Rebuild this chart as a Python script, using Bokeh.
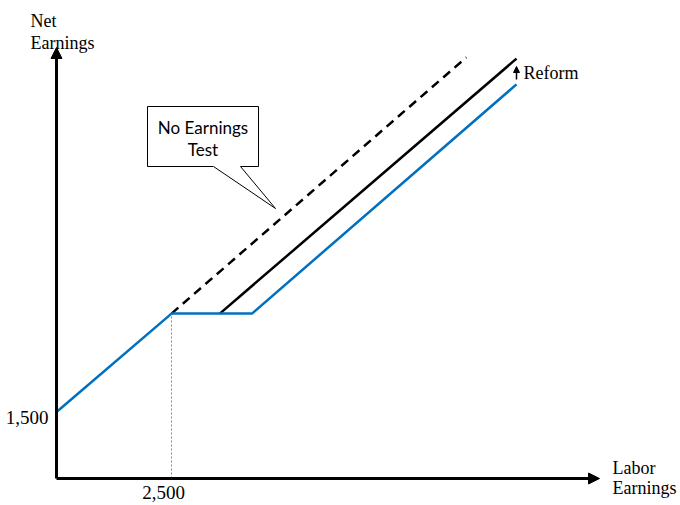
from bokeh.plotting import figure
from bokeh.models import Range1d, Label, Arrow, NormalHead
from bokeh.embed import file_html
from bokeh.resources import INLINE

# ---- data (schematic, in earnings units) ----
blue_x = [0, 2500, 4250, 10000]          # current earnings test
blue_y = [1500, 3720, 3720, 8890]
reform_x = [3550, 10000]                 # reform schedule
reform_y = [3720, 9470]
no_test_x = [2500, 8910]                 # no earnings test
no_test_y = [3720, 9500]
threshold_x = 2500
base_y = 1500
x_tick_labels = ["2,500"]
y_tick_labels = ["1,500"]

# pixel <-> data conversion for the layout
KX = 2500 / 115.0
KY = 1500 / 66.5
OX, OY = 56, 478          # page pixel of origin

def dx(px):
    return (px - OX) * KX

def dy(py):
    return (OY - py) * KY

W, H = 680, 505
p = figure(width=W, height=H, output_backend="svg", toolbar_location=None,
           x_range=Range1d(dx(0), dx(W)), y_range=Range1d(dy(H), dy(0)),
           min_border=0, min_border_left=0, min_border_right=0,
           min_border_top=0, min_border_bottom=0)
p.axis.visible = False
p.grid.visible = False
p.outline_line_color = None
p.background_fill_color = "white"
p.border_fill_color = "white"

# axes with arrowheads
p.add_layout(Arrow(end=NormalHead(size=11, fill_color="black", line_color="black"),
                   x_start=0, y_start=0, x_end=0, y_end=dy(47),
                   line_width=3, line_color="black"))
p.add_layout(Arrow(end=NormalHead(size=11, fill_color="black", line_color="black"),
                   x_start=0, y_start=0, x_end=dx(599), y_end=0,
                   line_width=3, line_color="black"))

# dotted threshold line
p.line([threshold_x, threshold_x], [0, blue_y[1]], line_color="#888888",
       line_width=1, line_dash="2 2")

# schedules
p.line(no_test_x, no_test_y, line_color="black", line_width=2.5, line_dash="9 6")
p.line(reform_x, reform_y, line_color="black", line_width=2.5)
p.line(blue_x, blue_y, line_color="#0070C0", line_width=2.5)

# callout
cx = [dx(147), dx(258), dx(258), dx(240), dx(275), dx(213), dx(147)]
cy = [dy(106), dy(106), dy(166), dy(166), dy(208), dy(166), dy(166)]
p.patch(cx, cy, fill_color="white", line_color="black", line_width=1)

sans = "Lato"
p.add_layout(Label(x=dx(202.5), y=dy(127), text="No Earnings", text_align="center",
                   text_baseline="middle", text_font=sans, text_font_size="17px",
                   text_color="black"))
p.add_layout(Label(x=dx(202.5), y=dy(149), text="Test", text_align="center",
                   text_baseline="middle", text_font=sans, text_font_size="17px",
                   text_color="black"))

# reform arrow
p.add_layout(Arrow(end=NormalHead(size=6, fill_color="black", line_color="black"),
                   x_start=10000, y_start=dy(79), x_end=10000, y_end=dy(66),
                   line_width=1.5, line_color="black"))

serif = "Liberation Serif"
def lab(x, y, t, align="left", baseline="alphabetic", size="18px"):
    p.add_layout(Label(x=x, y=y, text=t, text_align=align, text_baseline=baseline,
                       text_font=serif, text_font_size=size, text_color="black"))

lab(dx(523), dy(72), "Reform", baseline="middle")
lab(dx(30), dy(20), "Net")
lab(dx(30), dy(42), "Earnings")
lab(dx(612), dy(467), "Labor")
lab(dx(612), dy(487), "Earnings")
lab(dx(48), dy(417), y_tick_labels[0], align="right", size="19px")
lab(dx(163), dy(492), x_tick_labels[0], align="center", size="19px")

open("out.html", "w").write(file_html(p, INLINE))
